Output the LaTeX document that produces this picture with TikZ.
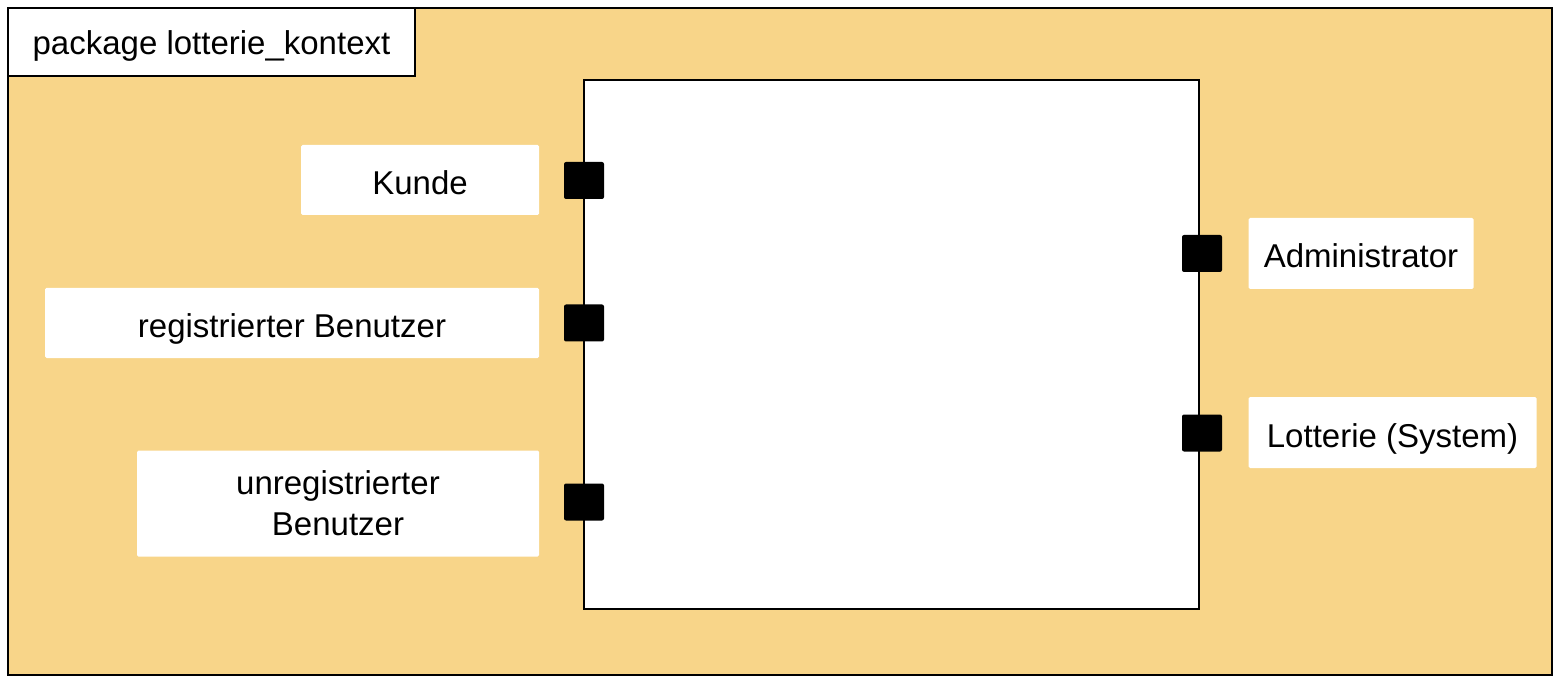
\documentclass[tikz,border=0pt]{standalone}
\usepackage{fontspec}
\setmainfont{Liberation Sans}
\definecolor{pkgfill}{RGB}{248,213,137}
\begin{document}
\begin{tikzpicture}[x=1pt,y=-1pt,
  frame/.style={draw=black,line width=2.5pt},
  txt/.style={font=\fontsize{33}{41}\selectfont,text height=29pt,text depth=0pt},
  label/.style={txt,fill=white,rounded corners=1.5pt,inner sep=0pt,align=center},
  port/.style={fill=black,rounded corners=2pt,minimum width=40pt,minimum height=37pt,inner sep=0pt}]
\useasboundingbox (0,0) rectangle (1560,684);
\fill[white] (0,0) rectangle (1560,684);
% package frame
\draw[frame,fill=pkgfill] (8,8) rectangle (1552,675);
\draw[frame,fill=white] (8,8) rectangle (415,76);
\node[txt,inner sep=0pt] (title) at (211.5,40) {package lotterie\_kontext};
% system box
\draw[draw=black,line width=2pt,fill=white] (584,80) rectangle (1199,609);
\node[inner sep=0pt,minimum width=615pt,minimum height=529pt] (sys) at (891.5,344.5) {};
% labels
\node[label,minimum width=238pt,minimum height=70pt] (kunde) at (420,180) {Kunde};
\node[label,minimum width=494pt,minimum height=70pt] (reg) at (292,323) {registrierter Benutzer};
\node[label,minimum width=402pt,minimum height=106pt,text height=,text depth=] (unreg) at (338,503.5) {unregistrierter\\Benutzer};
\node[label,minimum width=225pt,minimum height=71pt] (admin) at (1361,253.5) {Administrator};
\node[label,minimum width=288pt,minimum height=71pt] (lott) at (1392.5,432.5) {Lotterie (System)};
% ports
\node[port] (p1) at (584,180.5) {};
\node[port] (p2) at (584,323) {};
\node[port] (p3) at (584,502) {};
\node[port] (p4) at (1202,253.5) {};
\node[port] (p5) at (1202,433) {};
\end{tikzpicture}
\end{document}
